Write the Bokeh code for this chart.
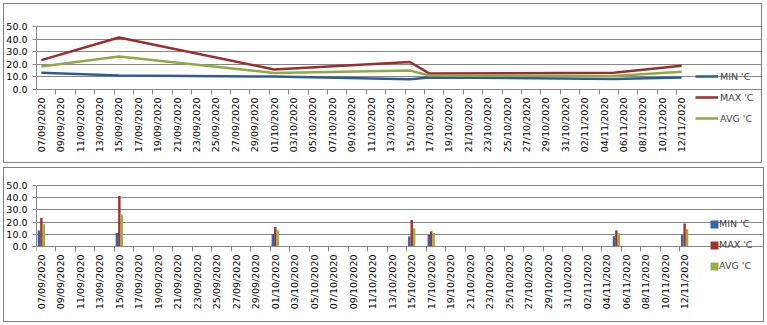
import numpy as np
import pandas as pd
from bokeh.plotting import figure
from bokeh.layouts import column
from bokeh.models import (FixedTicker, NumeralTickFormatter, Legend, LegendItem,
                          ColumnDataSource, Range1d)
from bokeh.transform import dodge
from bokeh.embed import file_html
from bokeh.resources import INLINE

# ---- data ----
dates = ["07/09/2020", "15/09/2020", "01/10/2020", "15/10/2020",
         "17/10/2020", "05/11/2020", "12/11/2020"]
min_c = [13.2, 11.1, 10.3, 8.2, 9.6, 8.3, 9.5]
max_c = [23.3, 41.3, 15.9, 21.8, 12.6, 13.3, 18.8]
avg_c = [18.3, 26.2, 13.1, 15.0, 11.1, 10.8, 14.1]
series_names = ["MIN 'C", "MAX 'C", "AVG 'C"]
axis_start = "07/09/2020"
axis_end = "12/11/2020"
y_ticks = [0, 10, 20, 30, 40, 50]

line_colors = ["#2E5E91", "#9B2D2A", "#8FAA45"]
bar_colors = ["#3565A8", "#A8302B", "#95B145"]
GRID = "#868686"
FONT = "DejaVu Sans"
FS = "9.5px"

start = pd.to_datetime(axis_start, dayfirst=True)
end = pd.to_datetime(axis_end, dayfirst=True)
n_days = (end - start).days + 1
xpos = [(pd.to_datetime(d, dayfirst=True) - start).days + 0.5 for d in dates]
tick_days = list(range(0, n_days, 2))
label_pos = [d + 0.5 for d in tick_days]
overrides = {p: (start + pd.Timedelta(days=d)).strftime("%d/%m/%Y")
             for p, d in zip(label_pos, tick_days)}

src = ColumnDataSource(dict(x=xpos, mn=min_c, mx=max_c, av=avg_c))
BOX = {"background-color": "white", "box-shadow": "inset 0 0 0 1px #7f7f7f"}


def make(width, height, left, plot_w, plot_top, plot_h):
    """Chart box of width x height; data area starts `left` px in, is plot_w wide,
    its 50-line sits plot_top px below the box top and it is plot_h tall."""
    frame_w = width - left
    x_end = n_days * frame_w / plot_w
    ppu = plot_h / 50.0
    y_end = 50 + plot_top / ppu
    y_start = -(height - plot_top - plot_h) / ppu
    p = figure(width=width, height=height, x_range=Range1d(0, x_end),
               y_range=Range1d(y_start, y_end), output_backend="svg",
               toolbar_location=None, min_border_left=left, min_border_right=0,
               min_border_top=0, min_border_bottom=0)
    p.styles = BOX
    p.border_fill_color = None
    p.background_fill_color = None
    p.outline_line_color = None
    p.xgrid.visible = False
    p.ygrid.ticker = FixedTicker(ticks=y_ticks)
    p.ygrid.grid_line_color = GRID
    p.ygrid.grid_line_width = 1
    p.ygrid.bounds = (0, n_days)

    ya = p.yaxis[0]
    ya.ticker = FixedTicker(ticks=y_ticks)
    ya.bounds = (0, 50)
    ya.formatter = NumeralTickFormatter(format="0.0")
    ya.axis_line_color = GRID
    ya.major_tick_line_color = GRID
    ya.major_tick_out = 4
    ya.major_tick_in = 0
    ya.minor_tick_line_color = None
    ya.major_label_standoff = 5
    ya.major_label_text_font = FONT
    ya.major_label_text_font_size = FS
    ya.major_label_text_color = "black"

    xa = p.xaxis[0]
    xa.fixed_location = 0
    xa.bounds = (0, n_days)
    xa.ticker = FixedTicker(ticks=label_pos, minor_ticks=tick_days)
    xa.major_label_overrides = overrides
    xa.axis_line_color = GRID
    xa.major_tick_line_color = None
    xa.major_tick_out = 5
    xa.major_tick_in = 0
    xa.minor_tick_line_color = GRID
    xa.minor_tick_out = 5
    xa.minor_tick_in = 0
    xa.major_label_orientation = np.pi / 2
    xa.major_label_standoff = 3
    xa.major_label_text_font = FONT
    xa.major_label_text_font_size = FS
    xa.major_label_text_color = "black"
    return p


def legend(items, loc, gw, gh, lh, sp, ls):
    return Legend(items=items, location=loc,
                  glyph_width=gw, glyph_height=gh, label_height=lh,
                  spacing=sp, padding=0, margin=0, label_standoff=ls,
                  border_line_color=None, background_fill_alpha=0,
                  label_text_font=FONT, label_text_font_size=FS)


# ---- top: line chart ----
p1 = make(759, 160, 33, 650, 23, 63)
p1.margin = (3, 0, 0, 3)
r1 = [p1.line("x", col, source=src, line_color=c, line_width=2.5)
      for col, c in zip(["mn", "mx", "av"], line_colors)]
p1.add_layout(legend([LegendItem(label=n, renderers=[rr]) for n, rr in zip(series_names, r1)],
                     (659, 38), 23, 14, 14, 7, 2))

# ---- bottom: bar chart ----
p2 = make(761, 155, 33, 653, 18, 61)
p2.margin = (4, 0, 0, 3)
r2 = [p2.vbar(x=dodge("x", off, range=p2.x_range), top=col, width=0.25,
              source=src, fill_color=c, line_color=None)
      for col, c, off in zip(["mn", "mx", "av"], bar_colors, [-0.25, 0.0, 0.25])]
p2.add_layout(legend([LegendItem(label=n, renderers=[rr]) for n, rr in zip(series_names, r2)],
                     (673, 51), 10, 10, 10, 10, 0))

layout = column(p1, p2, spacing=0)
open("out.html", "w").write(file_html(layout, INLINE))
